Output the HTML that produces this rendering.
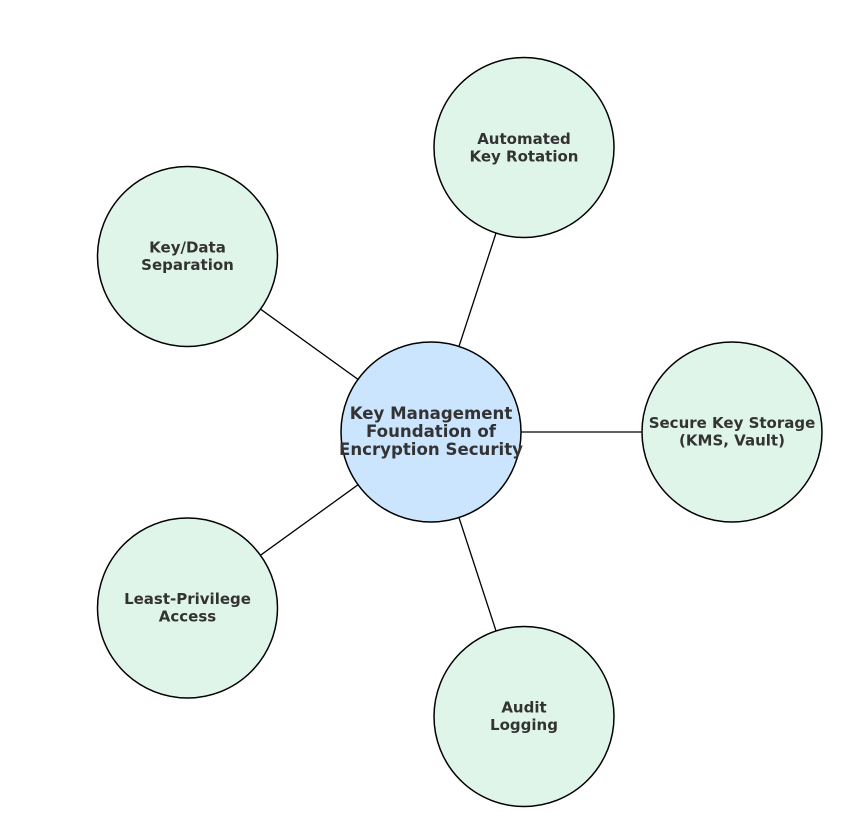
<!DOCTYPE html>
<html>
<head>
<meta charset="utf-8">
<style>
  html, body { margin: 0; padding: 0; background: #ffffff; }
  svg { display: block; }
  text { font-family: "DejaVu Sans", "Liberation Sans", sans-serif; font-weight: bold; fill: #333333; text-anchor: middle; }
</style>
</head>
<body>
<svg width="858" height="832" viewBox="0 0 858 832" xmlns="http://www.w3.org/2000/svg">
  <rect width="858" height="832" fill="#ffffff"/>
  <g stroke="#000" stroke-width="1.3">
    <line x1="431" y1="432" x2="524" y2="147.5"/>
    <line x1="431" y1="432" x2="187.5" y2="256.5"/>
    <line x1="431" y1="432" x2="732" y2="432"/>
    <line x1="431" y1="432" x2="187.5" y2="608"/>
    <line x1="431" y1="432" x2="524" y2="716.5"/>
  </g>
  <g stroke="#000" stroke-width="1.5" fill="#e0f5e9">
    <circle cx="524" cy="147.5" r="90"/>
    <circle cx="187.5" cy="256.5" r="90"/>
    <circle cx="732" cy="432" r="90"/>
    <circle cx="187.5" cy="608" r="90"/>
    <circle cx="524" cy="716.5" r="90"/>
  </g>
  <circle cx="431" cy="432" r="90" fill="#cce5ff" stroke="#000" stroke-width="1.5"/>

  <g font-size="16.6">
    <text x="431" y="419">Key Management</text>
    <text x="431" y="437">Foundation of</text>
    <text x="431" y="455">Encryption Security</text>
  </g>
  <g font-size="15">
    <text x="524" y="144">Automated</text>
    <text x="524" y="161.5">Key Rotation</text>

    <text x="187.5" y="252.5">Key/Data</text>
    <text x="187.5" y="270">Separation</text>

    <text x="732" y="428">Secure Key Storage</text>
    <text x="732" y="445.5">(KMS, Vault)</text>

    <text x="187.5" y="604">Least-Privilege</text>
    <text x="187.5" y="621.5">Access</text>

    <text x="524" y="712.5">Audit</text>
    <text x="524" y="730">Logging</text>
  </g>
</svg>
</body>
</html>
